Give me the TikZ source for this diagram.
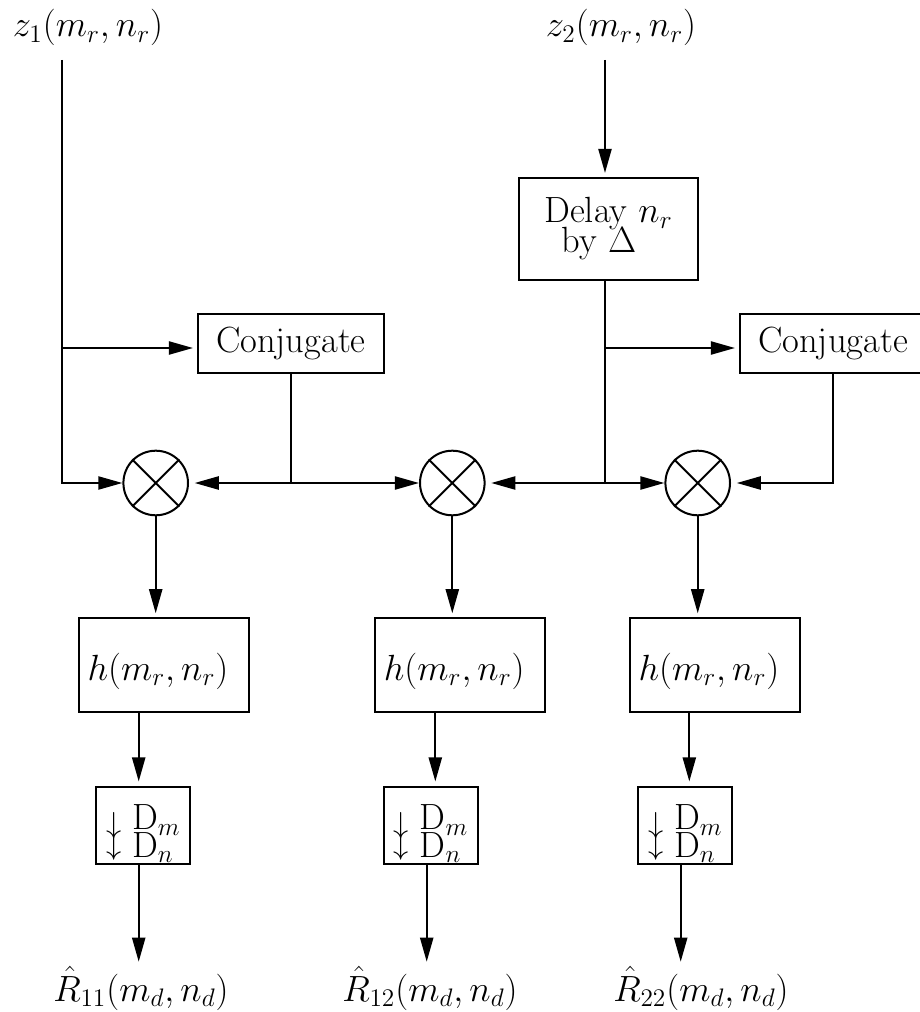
\documentclass[tikz,border=0pt]{standalone}
\usetikzlibrary{arrows.meta,calc}
\newcommand\diafont{\fontsize{17.28}{14.2}\selectfont\setlength{\lineskiplimit}{-20pt}}
\newcommand\dsfont{\fontsize{17.28}{13}\selectfont\setlength{\lineskiplimit}{-20pt}}
\newcommand\dsarrow[1]{\raisebox{#1}{\fontsize{14.4}{14.4}\selectfont$\downarrow$}}
\begin{document}
\begin{tikzpicture}[x=0.474pt,y=-0.474pt,line width=0.95pt,
  every node/.style={font=\diafont},
  box/.style={draw,line width=0.95pt,inner sep=0pt,anchor=center},
  conjbox/.style={box,minimum width=88.16pt,minimum height=27.97pt},
  delaybox/.style={box,minimum width=84.85pt,minimum height=48.35pt,align=center},
  hbox/.style={box,minimum width=80.58pt,minimum height=44.27pt},
  htext/.style={inner sep=0pt,anchor=center,xshift=-2.85pt,yshift=-2.9pt},
  dbox/.style={box,minimum width=44.56pt,minimum height=36.5pt},
  dtext/.style={inner sep=0pt,anchor=base west,align=left,font=\dsfont},
  mult/.style={draw,circle,inner sep=0pt,minimum size=30.62pt},
  lab/.style={inner sep=0pt,anchor=base},
  tip/.style={-{Triangle[length=11.4pt,width=6.2pt]}},
  arr/.style={tip,shorten >=1.9pt},
  arrin/.style={tip},
  arrl/.style={tip,shorten >=2.7pt}]
\useasboundingbox (0,0) rectangle (919,1012);
% labels
\node[lab] (z1) at (88,37) {$z_1(m_r,n_r)$};
\node[lab] (z2) at (621,37) {$z_2(m_r,n_r)$};
% boxes
\node[conjbox] (cj1) at (291,343.5) {Conjugate};
\node[conjbox] (cj2) at (833,343.5) {Conjugate};
\node[delaybox] (dl) at (608.5,229) {Delay $n_r$\\by $\Delta$\rule{9pt}{0pt}};
\node[mult] (m1) at (155.7,483) {};
\node[mult] (m2) at (452.3,483) {};
\node[mult] (m3) at (697.7,483) {};
\foreach \m in {m1,m2,m3}{\draw (\m.45) -- (\m.225) (\m.135) -- (\m.315);}
\node[hbox] (h1) at (164,665) {};
\node[hbox] (h2) at (460.3,665) {};
\node[hbox] (h3) at (715,665) {};
\node[htext] (h1t) at (h1.center) {$h(m_r,n_r)$};
\node[htext] (h2t) at (h2.center) {$h(m_r,n_r)$};
\node[htext] (h3t) at (h3.center) {$h(m_r,n_r)$};
\node[dbox] (d1) at (143,825) {};
\node[dbox] (d2) at (430.7,825) {};
\node[dbox] (d3) at (685,825) {};
\node[dtext] (d1t) at (105,857) {\dsarrow{-2pt} D$_m$\\\dsarrow{1pt} D$_n$};
\node[dtext] (d2t) at (392.7,857) {\dsarrow{-2pt} D$_m$\\\dsarrow{1pt} D$_n$};
\node[dtext] (d3t) at (647,857) {\dsarrow{-2pt} D$_m$\\\dsarrow{1pt} D$_n$};
\node[lab] (r1) at (141,1001) {$\hat{R}_{11}(m_d,n_d)$};
\node[lab] (r2) at (430,1001) {$\hat{R}_{12}(m_d,n_d)$};
\node[lab] (r3) at (701,1001) {$\hat{R}_{22}(m_d,n_d)$};
% coordinates
\coordinate (s1) at (62,60);
\coordinate (b1) at (62,348);
\coordinate (j1) at (291,483);
\coordinate (s2) at (605,60);
\coordinate (b2) at (605,348);
\coordinate (j2) at (605,483);
\coordinate (v1) at (138.7,0);
\coordinate (v2) at (435.3,0);
\coordinate (w2) at (426.7,0);
\coordinate (v3) at (689.3,0);
\coordinate (w3) at (680.7,0);
\coordinate (e1) at (138.7,961.7);
\coordinate (e2) at (426.7,961.7);
\coordinate (e3) at (680.7,961.7);
% left input
\draw[arrin] (s1) |- (m1.west);
\draw[arr] (b1) -- (b1 -| cj1.west);
\draw (cj1.south) -- (j1);
\draw[arrl] (j1) -- (m1.east);
\draw[arrin] (j1) -- (m2.west);
% right input
\draw[arr] (s2) -- (s2 |- dl.north);
\draw (s2 |- dl.south) -- (j2);
\draw[arr] (b2) -- (b2 -| cj2.west);
\draw[arrl] (j2) -- (m2.east);
\draw[arrin] (j2) -- (m3.west);
\draw[arrl] (cj2.south) |- (m3.east);
% columns
\draw[arr] (m1.south) -- (m1.south |- h1.north);
\draw[arr] (m2.south) -- (m2.south |- h2.north);
\draw[arr] (m3.south) -- (m3.south |- h3.north);
\draw[arr] (v1 |- h1.south) -- (v1 |- d1.north);
\draw[arr] (v2 |- h2.south) -- (v2 |- d2.north);
\draw[arr] (v3 |- h3.south) -- (v3 |- d3.north);
\draw[arrin] (v1 |- d1.south) -- (e1);
\draw[arrin] (w2 |- d2.south) -- (e2);
\draw[arrin] (w3 |- d3.south) -- (e3);
\end{tikzpicture}
\end{document}
